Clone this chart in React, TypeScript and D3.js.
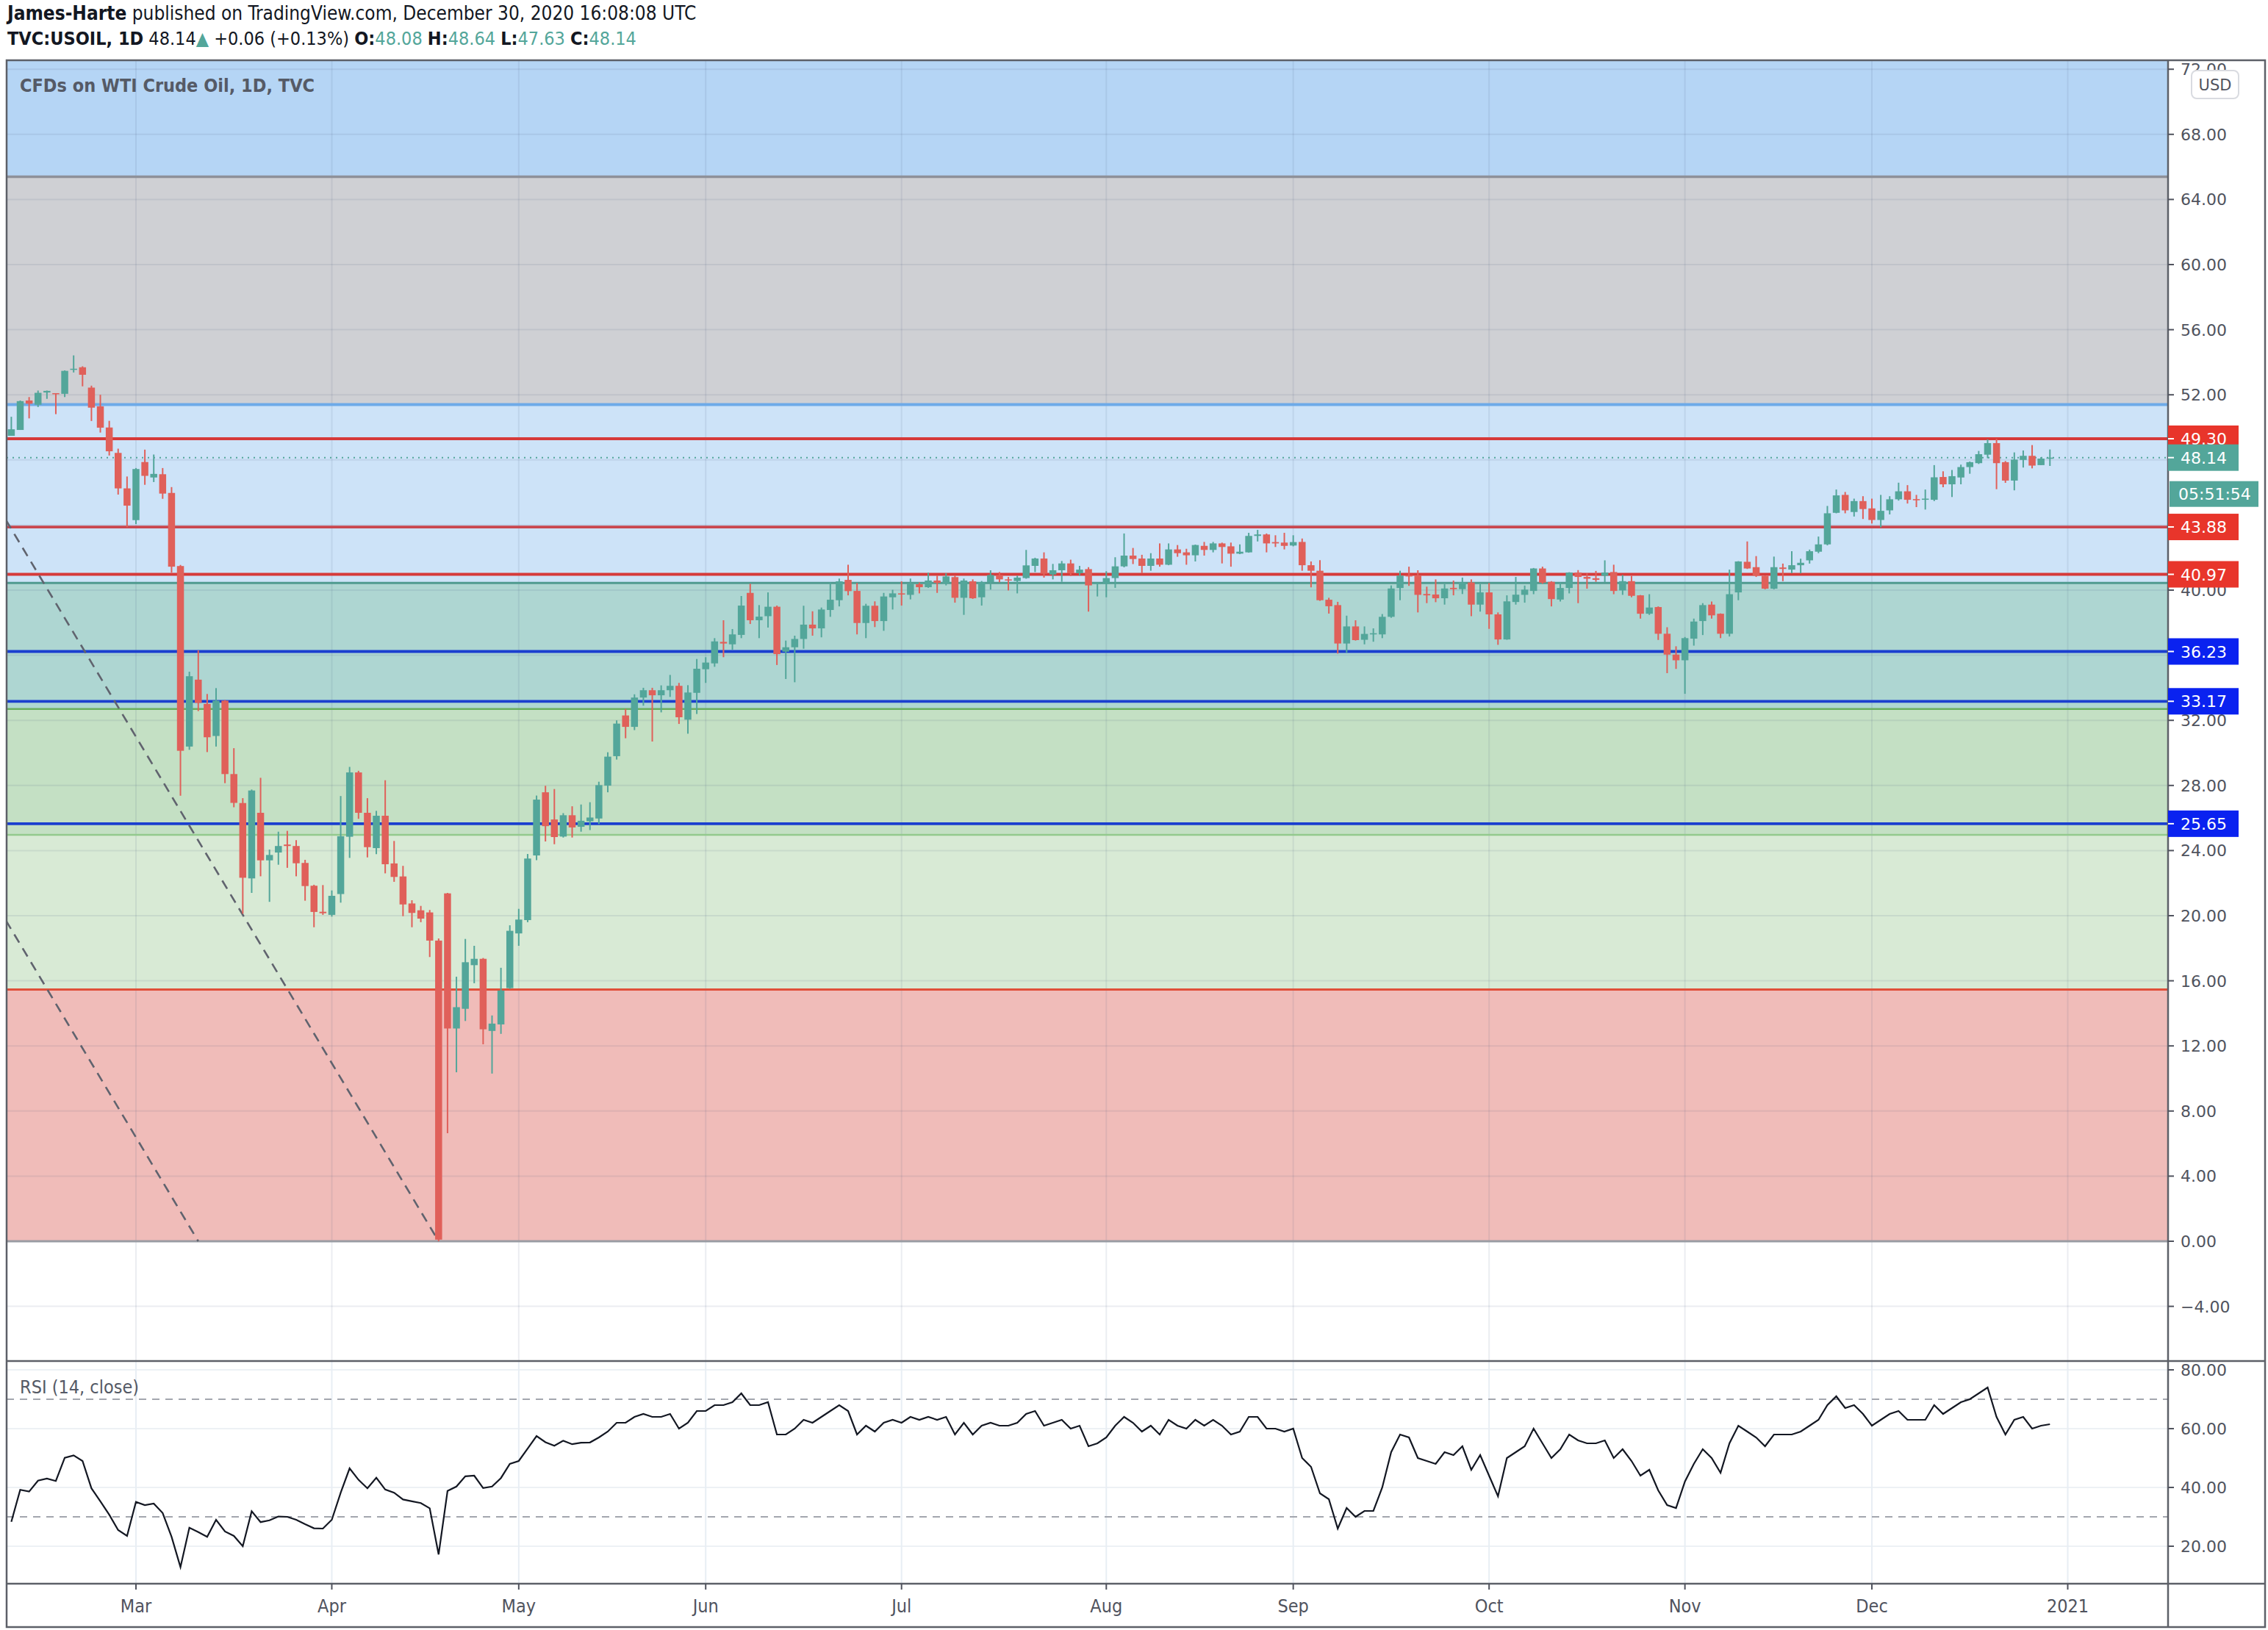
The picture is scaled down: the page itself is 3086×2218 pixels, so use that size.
import React from 'react';
import * as d3 from 'd3';

// ---------- DATA ----------
const sessionDays: [string, number[]][] = [
  ['2020-02', [11, 12, 13, 14, 17, 18, 19, 20, 21, 24, 25, 26, 27, 28]],
  ['2020-03', [2, 3, 4, 5, 6, 9, 10, 11, 12, 13, 16, 17, 18, 19, 20, 23, 24, 25, 26, 27, 30, 31]],
  ['2020-04', [1, 2, 3, 6, 7, 8, 9, 13, 14, 15, 16, 17, 20, 21, 22, 23, 24, 27, 28, 29, 30]],
  ['2020-05', [1, 4, 5, 6, 7, 8, 11, 12, 13, 14, 15, 18, 19, 20, 21, 22, 25, 26, 27, 28, 29]],
  ['2020-06', [1, 2, 3, 4, 5, 8, 9, 10, 11, 12, 15, 16, 17, 18, 19, 22, 23, 24, 25, 26, 29, 30]],
  ['2020-07', [1, 2, 3, 6, 7, 8, 9, 10, 13, 14, 15, 16, 17, 20, 21, 22, 23, 24, 27, 28, 29, 30, 31]],
  ['2020-08', [3, 4, 5, 6, 7, 10, 11, 12, 13, 14, 17, 18, 19, 20, 21, 24, 25, 26, 27, 28, 31]],
  ['2020-09', [1, 2, 3, 4, 7, 8, 9, 10, 11, 14, 15, 16, 17, 18, 21, 22, 23, 24, 25, 28, 29, 30]],
  ['2020-10', [1, 2, 5, 6, 7, 8, 9, 12, 13, 14, 15, 16, 19, 20, 21, 22, 23, 26, 27, 28, 29, 30]],
  ['2020-11', [2, 3, 4, 5, 6, 9, 10, 11, 12, 13, 16, 17, 18, 19, 20, 23, 24, 25, 26, 27, 30]],
  ['2020-12', [1, 2, 3, 4, 7, 8, 9, 10, 11, 14, 15, 16, 17, 18, 21, 22, 23, 24, 28, 29, 30]],
];
const dates: string[] = sessionDays.flatMap(([m, ds]) => ds.map((d) => `${m}-${String(d).padStart(2, '0')}`));
const futureDates = ['2020-12-31', '2021-01-04'];

const opens = [
  49.48, 49.84, 51.65, 51.39, 52.14, 52.10, 52.06, 53.55, 53.69, 52.44, 51.29, 49.99, 48.43, 46.25,
  44.30, 47.87, 46.92, 47.12, 45.97, 41.48, 30.39, 34.50, 33.01, 31.04, 33.21, 28.70, 26.92, 22.29, 26.32, 23.40, 23.88, 24.37, 24.28, 23.24, 21.84, 20.24,
  20.05, 21.33, 24.85, 28.80, 26.32, 24.15, 26.14, 23.21, 22.41, 20.75, 20.33, 20.20, 18.47, 21.37, 13.07, 14.28, 16.96, 17.35, 12.92, 13.32, 15.55,
  18.91, 19.73, 23.70, 27.58, 25.91, 24.86, 26.17, 25.46, 25.80, 25.97, 27.99, 29.80, 32.30, 31.60, 33.40, 33.85, 33.54, 33.85, 34.12, 32.04, 33.69,
  35.14, 35.50, 36.82, 36.67, 37.25, 39.83, 38.15, 38.40, 38.98, 36.22, 36.49, 37.00, 37.88, 37.65, 38.78, 39.38, 40.63, 39.95, 37.98, 39.04, 38.10, 39.56,
  39.80, 39.71, 40.36, 40.18, 40.59, 40.41, 40.80, 39.53, 40.54, 39.56, 40.48, 40.93, 40.66, 40.56, 40.74, 41.49, 41.94, 40.96, 41.22, 41.64, 41.04, 41.29, 40.38,
  40.39, 40.74, 41.46, 42.12, 41.94, 41.49, 41.94, 41.56, 42.50, 42.32, 42.14, 42.72, 42.47, 42.87, 42.69, 42.24, 42.32, 43.33, 43.42, 42.95, 42.92,
  42.74, 42.96, 41.53, 41.19, 39.41, 39.08, 36.72, 37.77, 36.95, 37.28, 37.28, 38.36, 40.13, 40.92, 40.89, 39.76, 39.73, 39.50, 40.14, 40.06, 40.47, 39.11,
  39.86, 38.51, 36.97, 39.27, 39.71, 39.95, 41.33, 40.51, 39.42, 40.13, 41.08, 40.81, 40.73, 40.88, 41.11, 39.98, 40.55, 39.68, 38.55, 38.96, 37.32, 36.04,
  35.69, 37.02, 38.10, 39.11, 38.55, 37.32, 39.86, 41.74, 41.41, 40.88, 40.09, 41.39, 41.26, 41.53, 41.83, 42.36, 42.81, 44.75, 45.85, 44.80, 45.47,
  45.02, 44.31, 44.90, 45.58, 46.07, 45.59, 45.55, 45.55, 46.95, 46.50, 46.92, 47.56, 47.80, 48.32, 49.03, 47.86, 46.73, 48.00, 48.25, 47.68, 48.08,
];
const highs = [
  50.65, 51.65, 51.86, 52.26, 52.26, 52.10, 53.50, 54.42, 53.75, 52.56, 52.00, 50.40, 48.69, 46.98,
  47.50, 48.63, 48.33, 47.50, 46.33, 41.55, 34.99, 36.30, 33.62, 33.98, 33.25, 30.29, 27.22, 27.75, 28.47, 24.06, 25.16, 25.21, 24.64, 23.43, 21.90, 21.88,
  21.55, 27.35, 29.14, 28.90, 27.22, 26.44, 28.32, 24.59, 23.06, 20.95, 20.60, 20.35, 18.60, 21.40, 16.25, 18.57, 18.15, 17.40, 13.87, 16.80, 19.41,
  20.42, 23.79, 27.38, 27.98, 27.78, 26.30, 26.72, 26.83, 26.97, 28.23, 30.04, 32.00, 32.70, 33.60, 34.00, 34.00, 34.15, 34.79, 34.30, 34.16, 35.77,
  35.88, 37.05, 38.15, 37.61, 39.64, 40.39, 39.08, 39.86, 39.05, 36.90, 37.20, 39.04, 38.70, 38.93, 40.47, 40.71, 41.56, 40.44, 39.16, 39.31, 39.83, 40.02,
  40.54, 40.71, 40.47, 41.07, 40.89, 41.04, 40.92, 40.71, 40.66, 40.56, 41.22, 41.11, 40.81, 40.89, 42.47, 41.99, 42.32, 41.61, 41.79, 41.87, 41.49, 41.41, 40.45,
  41.16, 42.02, 43.48, 42.59, 42.17, 42.27, 42.87, 42.87, 42.77, 42.54, 42.80, 42.96, 42.96, 42.92, 42.92, 42.81, 43.52, 43.70, 43.48, 43.37, 43.52,
  43.37, 43.17, 41.76, 41.84, 39.53, 39.28, 38.43, 38.15, 37.77, 37.65, 38.53, 40.29, 41.19, 41.44, 41.22, 40.21, 40.66, 40.36, 40.59, 40.77, 40.66, 40.36,
  40.44, 38.63, 39.68, 40.81, 40.28, 41.36, 41.44, 40.55, 40.46, 41.10, 41.23, 41.03, 41.18, 41.83, 41.56, 40.93, 40.88, 39.70, 39.75, 39.00, 37.72, 36.55,
  37.12, 38.25, 39.20, 39.30, 38.57, 41.26, 41.78, 42.99, 42.09, 40.90, 42.06, 41.63, 42.39, 41.93, 42.49, 43.29, 45.17, 46.18, 46.03, 45.62, 45.77,
  45.62, 45.85, 45.77, 46.60, 46.45, 45.85, 46.18, 47.68, 47.30, 47.38, 47.71, 47.90, 48.55, 49.26, 49.30, 47.93, 48.46, 48.58, 48.91, 48.17, 48.64,
];
const lows = [
  49.48, 49.84, 50.55, 51.25, 51.75, 50.81, 51.86, 53.37, 52.52, 50.39, 49.68, 48.27, 45.87, 43.86,
  44.06, 46.47, 46.64, 45.61, 41.07, 27.37, 30.19, 32.57, 30.05, 30.39, 28.14, 26.66, 20.12, 21.40, 22.42, 20.85, 23.13, 22.94, 22.42, 20.92, 19.29, 20.05,
  19.94, 20.80, 23.55, 25.95, 23.58, 23.78, 22.60, 22.08, 19.97, 19.29, 19.60, 17.46, 0.00, 6.64, 10.38, 13.53, 15.85, 12.10, 10.30, 12.74, 15.50,
  18.15, 19.60, 23.41, 24.56, 24.39, 24.80, 24.80, 25.16, 25.26, 25.63, 27.58, 29.59, 30.90, 31.40, 32.90, 30.70, 32.49, 33.44, 31.78, 31.18, 32.39,
  34.30, 35.29, 35.88, 36.34, 37.05, 37.92, 37.05, 37.70, 35.40, 34.54, 34.34, 36.40, 37.20, 37.10, 38.36, 39.00, 39.68, 37.28, 37.05, 37.73, 37.50, 38.81,
  39.05, 39.43, 39.80, 40.14, 39.83, 40.29, 39.23, 38.48, 39.46, 39.05, 40.03, 40.48, 39.98, 39.80, 40.70, 41.11, 40.77, 40.66, 40.51, 40.86, 40.89, 38.68, 39.61,
  39.56, 40.14, 41.40, 41.60, 41.04, 41.19, 41.44, 41.53, 42.05, 41.56, 41.76, 42.12, 42.32, 41.64, 41.44, 42.21, 42.30, 42.99, 42.32, 42.65, 42.50,
  42.69, 41.19, 40.17, 39.34, 38.56, 36.10, 36.15, 36.90, 36.67, 36.83, 37.05, 38.30, 39.38, 40.26, 38.63, 39.20, 39.26, 39.11, 39.68, 39.76, 38.40, 38.68,
  37.62, 36.64, 36.95, 39.11, 39.23, 39.75, 40.39, 39.00, 39.30, 39.80, 39.20, 40.09, 40.51, 40.48, 39.75, 39.71, 39.56, 38.25, 38.48, 36.94, 34.90, 35.16,
  33.63, 36.59, 37.24, 38.25, 37.05, 37.15, 39.38, 41.30, 40.81, 40.05, 40.05, 40.55, 41.04, 41.03, 41.63, 42.27, 42.75, 44.72, 44.72, 44.52, 44.37,
  44.09, 43.86, 44.65, 45.50, 45.32, 45.10, 44.95, 45.47, 46.32, 45.72, 46.50, 47.15, 47.75, 48.10, 46.20, 46.59, 46.13, 47.53, 47.48, 47.68, 47.63,
];
const closes = [
  49.88, 51.61, 51.45, 52.12, 52.24, 52.04, 53.47, 53.60, 53.23, 51.21, 49.98, 48.53, 46.25, 45.19,
  47.44, 47.02, 47.14, 45.93, 41.44, 30.13, 34.71, 33.07, 30.96, 33.21, 28.70, 26.93, 22.33, 27.69, 23.40, 23.73, 24.28, 24.28, 23.22, 21.82, 20.23, 20.15,
  21.22, 24.88, 28.80, 26.32, 24.21, 26.14, 23.16, 22.38, 20.69, 20.17, 19.82, 18.47, 0.10, 13.07, 14.38, 17.14, 17.35, 13.02, 13.37, 15.40, 19.07,
  19.76, 23.51, 27.13, 25.50, 24.83, 26.17, 25.42, 25.83, 26.03, 28.02, 29.77, 31.80, 31.60, 33.40, 33.85, 33.54, 33.85, 34.12, 32.19, 33.71, 35.17,
  35.55, 36.85, 36.72, 37.28, 39.05, 38.15, 38.37, 38.98, 36.07, 36.49, 37.00, 37.88, 37.65, 38.81, 39.41, 40.54, 39.94, 37.98, 39.04, 38.10, 39.61, 39.80,
  39.73, 40.39, 40.18, 40.59, 40.44, 40.84, 39.53, 40.59, 39.50, 40.48, 40.93, 40.66, 40.59, 40.77, 41.52, 41.94, 41.01, 41.22, 41.64, 41.04, 41.26, 40.29, 40.45,
  40.74, 41.46, 42.12, 41.91, 41.49, 41.94, 41.56, 42.50, 42.27, 42.14, 42.77, 42.47, 42.87, 42.65, 42.24, 42.36, 43.33, 43.42, 42.87, 42.87, 42.72,
  42.95, 41.53, 41.19, 39.38, 39.01, 36.72, 37.77, 36.93, 37.31, 37.35, 38.36, 40.10, 40.89, 40.84, 39.71, 39.68, 39.50, 40.10, 40.06, 40.47, 39.11, 39.86,
  38.51, 36.97, 39.31, 39.72, 40.03, 41.33, 40.46, 39.45, 40.13, 41.08, 40.81, 40.70, 40.63, 41.08, 39.95, 40.55, 39.65, 38.55, 38.93, 37.32, 36.04, 35.69,
  37.05, 38.07, 39.08, 38.45, 37.32, 39.75, 41.76, 41.33, 40.88, 40.09, 41.41, 41.30, 41.53, 41.68, 42.39, 42.81, 44.72, 45.82, 44.90, 45.47, 44.98,
  44.31, 44.87, 45.58, 46.07, 45.55, 45.52, 45.62, 46.93, 46.50, 47.00, 47.56, 47.86, 48.35, 49.03, 47.80, 46.73, 48.02, 48.25, 47.65, 48.08, 48.14,
];
const rsi = [
  28.3, 39.2, 38.6, 42.3, 43, 42.2, 50.1, 50.9, 49, 39.7, 35.3, 30.7, 25.5, 23.5,
  35.1, 34, 34.5, 31.3, 23.2, 12.9, 26.3, 24.8, 23.2, 29, 25, 23.5, 20, 31.9, 28.2, 28.8, 30.1, 30, 29, 27.5, 26.1, 26,
  29, 38.2, 46.5, 42.6, 39.7, 43.3, 39.3, 38.2, 35.9, 35.3, 34.7, 32.9, 17.2, 38.8, 40.3, 43.8, 44, 39.8, 40.3, 43.2, 48,
  49, 53.2, 57.5, 55.4, 54.2, 55.9, 54.7, 55.2, 55.3, 57, 59, 62, 62, 64, 65, 64, 64, 65, 60, 62, 66,
  66, 68, 68, 69, 72, 68, 68, 69, 58, 58, 60, 63, 62, 64, 66, 68, 66, 58, 61, 59, 62, 63,
  62, 64, 63, 64, 63, 64, 58, 62, 58, 61, 62, 61, 61, 62, 65, 66, 61, 62, 63, 60, 61, 54, 55,
  57, 61, 64, 62, 59, 61, 58, 63, 61, 60, 63, 61, 63, 61, 58, 59, 64, 64, 60, 60, 59,
  60, 50, 47, 38, 36, 26, 33, 30, 32, 32, 40, 52, 58, 57, 50, 49, 48, 52, 51, 54, 46, 51,
  44, 37, 50, 52, 54, 60, 55, 50, 53, 58, 56, 55, 55, 56, 50, 53, 49, 44, 46, 39, 34, 33,
  42, 48, 53, 50, 45, 55, 61, 59, 57, 54, 58, 58, 58, 59, 61, 63, 68, 71, 67, 68, 65,
  61, 63, 65, 66, 63, 63, 63, 68, 65, 67, 69, 70, 72, 74, 64, 58, 63, 64, 60, 61, 61.5,
];

const monthTicks: [string, string][] = [
  ['Mar', '2020-03-02'], ['Apr', '2020-04-01'], ['May', '2020-05-01'], ['Jun', '2020-06-01'],
  ['Jul', '2020-07-01'], ['Aug', '2020-08-03'], ['Sep', '2020-09-01'], ['Oct', '2020-10-01'],
  ['Nov', '2020-11-02'], ['Dec', '2020-12-01'], ['2021', '2021-01-04'],
];
const priceTicks = [-4, 0, 4, 8, 12, 16, 20, 24, 28, 32, 36, 40, 44, 48, 52, 56, 60, 64, 68, 72];
const hiddenPriceTicks = [36, 44, 48];
const rsiTicks = [20, 40, 60, 80];
const rsiBands = [30, 70];

// zones (price bounds)
const zoneTop = [80, 65.4, 51.4, 40.44, 32.7, 24.97, 15.46];
const zoneBottom = [65.4, 51.4, 40.44, 32.7, 24.97, 15.46, 0];
const zoneEdges = [65.4, 51.4, 40.44, 32.7, 24.97, 15.46, 0];
const levels = [49.30, 43.88, 40.97, 36.23, 33.17, 25.65];
const lastPrice = 48.14;
// trend lines in (bar index, price)
const trendA: [number, number][] = [[-0.6, 44.3], [48, 0]];
const trendB: [number, number][] = [[-0.6, 19.7], [21, 0]];

// styles
const zoneFill = ['#b5d5f5', '#cfd0d4', '#cde3f8', '#aed6d2', '#c4e0c4', '#d8ead5', '#f0bcb9'];
const edgeStroke = ['#8e9199', '#6eaae8', '#4f9a8f', '#6aae5f', '#93c98d', '#e0503a', '#9a9ca3'];
const edgeWidth = [3.5, 4, 3, 2.5, 2.5, 3, 3];
const levelStroke = ['#d63a3a', '#c9474f', '#d63a3a', '#1a3fcf', '#1a3fcf', '#1a3fcf'];
const levelBox = ['#e8352b', '#e8352b', '#e8352b', '#0a22f0', '#0a22f0', '#0a22f0'];
const UP = '#53a69a';
const DOWN = '#e0605a';
const TXT = '#50535e';
const narrow = "'Liberation Sans Narrow','DejaVu Sans Condensed','Roboto Condensed',Lato,sans-serif";
const axisFont = "'DejaVu Sans',Verdana,sans-serif";

export default function App() {
  const W = 3086, H = 2218;
  const L = 9, R = 2950, T = 82, MB = 1852, RB = 2155, OR = 3082, OB = 2214;
  const axisDates = dates.concat(futureDates);
  const y = d3.scaleLinear().domain([0, 72]).range([1689, 1689 - 72 * 22.15]);
  const yr = d3.scaleLinear().domain([20, 80]).range([2104, 1864]);
  const x = d3.scaleLinear().domain([0, axisDates.length - 1]).range([15.4, 2813.5]);
  const bw = 9.5;
  const fmt = d3.format('.2f');
  const rsiLine = d3.line<number>().x((_, i) => x(i)).y((v) => yr(v))(rsi) || '';
  const trendPath = (pts: [number, number][]) =>
    d3.line<[number, number]>().x((p) => x(p[0])).y((p) => y(p[1]))(pts) || '';
  const tickX = monthTicks.map(([lab, d]) => ({ lab, x: x(axisDates.indexOf(d)) }));

  return (
    <svg width={W} height={H} style={{ position: 'absolute', left: 0, top: 0, display: 'block' }}>
      <defs>
        <clipPath id="mainClip"><rect x={L} y={T} width={R - L} height={MB - T} /></clipPath>
        <clipPath id="rsiClip"><rect x={L} y={MB} width={R - L} height={RB - MB} /></clipPath>
      </defs>
      <rect x={0} y={0} width={W} height={H} fill="#fff" />

      {/* header */}
      <text x={10} y={27} fontFamily={narrow} fontSize={26} fill="#131722">
        <tspan fontWeight="bold">James-Harte</tspan>
        <tspan> published on TradingView.com, December 30, 2020 16:08:08 UTC</tspan>
      </text>
      <text x={10} y={61} fontFamily={narrow} fontSize={25} fill="#131722">
        <tspan fontWeight="bold">TVC:USOIL, 1D</tspan>
        <tspan> 48.14</tspan>
        <tspan fill={UP}>▲</tspan>
        <tspan> +0.06 (+0.13%) </tspan>
        <tspan fontWeight="bold">O:</tspan><tspan fill={UP}>48.08 </tspan>
        <tspan fontWeight="bold">H:</tspan><tspan fill={UP}>48.64 </tspan>
        <tspan fontWeight="bold">L:</tspan><tspan fill={UP}>47.63 </tspan>
        <tspan fontWeight="bold">C:</tspan><tspan fill={UP}>48.14</tspan>
      </text>

      {/* main pane */}
      <g clipPath="url(#mainClip)">
        {zoneTop.map((t, i) => (
          <rect key={'z' + i} x={L} y={y(t)} width={R - L} height={y(zoneBottom[i]) - y(t)} fill={zoneFill[i]} />
        ))}
        {priceTicks.map((p) => (
          <line key={'g' + p} x1={L} x2={R} y1={y(p)} y2={y(p)} stroke="rgba(70,95,130,0.11)" strokeWidth={2} />
        ))}
        {tickX.map((t) => (
          <line key={'v' + t.lab} x1={t.x} x2={t.x} y1={T} y2={MB} stroke="rgba(70,95,130,0.11)" strokeWidth={2} />
        ))}
        {zoneEdges.map((p, i) => (
          <line key={'e' + i} x1={L} x2={R} y1={y(p)} y2={y(p)} stroke={edgeStroke[i]} strokeWidth={edgeWidth[i]} />
        ))}
        {levels.map((p, i) => (
          <line key={'l' + i} x1={L} x2={R} y1={y(p)} y2={y(p)} stroke={levelStroke[i]} strokeWidth={3.8} />
        ))}
        <path d={trendPath(trendA)} stroke="#60636e" strokeWidth={2.6} strokeDasharray="13 9" fill="none" />
        <path d={trendPath(trendB)} stroke="#60636e" strokeWidth={2.6} strokeDasharray="13 9" fill="none" />
        <line x1={L} x2={R} y1={y(lastPrice)} y2={y(lastPrice)} stroke={UP} strokeWidth={2} strokeDasharray="2 6" />
        {closes.map((c, i) => {
          const o = opens[i];
          const col = c >= o ? UP : DOWN;
          const cx = x(i);
          const top = y(Math.max(o, c));
          const bot = y(Math.min(o, c));
          return (
            <g key={'c' + i}>
              <line x1={cx} x2={cx} y1={y(highs[i])} y2={y(lows[i])} stroke={col} strokeWidth={2} />
              <rect x={cx - bw / 2} y={top} width={bw} height={Math.max(bot - top, 1.5)} fill={col} />
            </g>
          );
        })}
      </g>
      <text x={27} y={125} fontFamily={narrow} fontSize={25} fontWeight="bold" fill="#555a66">
        CFDs on WTI Crude Oil, 1D, TVC
      </text>

      {/* RSI pane */}
      <g clipPath="url(#rsiClip)">
        {rsiTicks.map((v) => (
          <line key={'rg' + v} x1={L} x2={R} y1={yr(v)} y2={yr(v)} stroke="#edf1f5" strokeWidth={2} />
        ))}
        {tickX.map((t) => (
          <line key={'rv' + t.lab} x1={t.x} x2={t.x} y1={MB} y2={RB} stroke="#e8eef4" strokeWidth={2} />
        ))}
        {rsiBands.map((v) => (
          <line key={'rb' + v} x1={L} x2={R} y1={yr(v)} y2={yr(v)} stroke="#a3a6ae" strokeWidth={2} strokeDasharray="10 8" />
        ))}
        <path d={rsiLine} fill="none" stroke="#131722" strokeWidth={2.2} />
      </g>
      <text x={27} y={1896} fontFamily={narrow} fontSize={25} fill="#555a66">RSI (14, close)</text>

      {/* frame */}
      <rect x={L} y={T} width={OR - L} height={OB - T} fill="none" stroke="#5d6068" strokeWidth={2.5} />
      <line x1={R} x2={R} y1={T} y2={OB} stroke="#5d6068" strokeWidth={2.5} />
      <line x1={L} x2={OR} y1={MB} y2={MB} stroke="#5d6068" strokeWidth={2.5} />
      <line x1={L} x2={OR} y1={RB} y2={RB} stroke="#5d6068" strokeWidth={2.5} />

      {/* price axis */}
      <g fontFamily={axisFont} fontSize={22} fill={TXT}>
        {priceTicks.filter((p) => !hiddenPriceTicks.includes(p)).map((p) => (
          <g key={'pt' + p}>
            <line x1={R} x2={R + 8} y1={y(p)} y2={y(p)} stroke={TXT} strokeWidth={2} />
            <text x={R + 17} y={y(p) + 8}>{fmt(p)}</text>
          </g>
        ))}
        {rsiTicks.map((v) => (
          <g key={'rt' + v}>
            <line x1={R} x2={R + 8} y1={yr(v)} y2={yr(v)} stroke={TXT} strokeWidth={2} />
            <text x={R + 17} y={yr(v) + 8}>{fmt(v)}</text>
          </g>
        ))}
      </g>
      <rect x={2982} y={96} width={64} height={38} rx={7} fill="#fff" stroke="#d9dbe0" strokeWidth={2} />
      <text x={3014} y={123} textAnchor="middle" fontFamily={axisFont} fontSize={21} fill={TXT}>USD</text>

      {/* price labels */}
      <g fontFamily={axisFont} fontSize={22} fill="#fff">
        {levels.map((p, i) => (
          <g key={'pl' + i}>
            <rect x={R} y={y(p) - 18} width={96} height={36} fill={levelBox[i]} />
            <line x1={R} x2={R + 8} y1={y(p)} y2={y(p)} stroke="#fff" strokeWidth={2} />
            <text x={R + 17} y={y(p) + 8}>{fmt(p)}</text>
          </g>
        ))}
        <rect x={R} y={y(lastPrice) - 18} width={96} height={36} fill={UP} />
        <line x1={R} x2={R + 8} y1={y(lastPrice)} y2={y(lastPrice)} stroke="#fff" strokeWidth={2} />
        <text x={R + 17} y={y(lastPrice) + 8}>{fmt(lastPrice)}</text>
        <rect x={R + 2} y={y(lastPrice) + 32} width={121} height={35} fill={UP} />
        <text x={R + 14} y={y(lastPrice) + 57}>05:51:54</text>
      </g>

      {/* time axis */}
      <g fontFamily={narrow} fontSize={25} fill={TXT}>
        {tickX.map((t) => (
          <g key={'tx' + t.lab}>
            <line x1={t.x} x2={t.x} y1={RB} y2={RB + 8} stroke={TXT} strokeWidth={2} />
            <text x={t.x} y={2194} textAnchor="middle">{t.lab}</text>
          </g>
        ))}
      </g>
    </svg>
  );
}
